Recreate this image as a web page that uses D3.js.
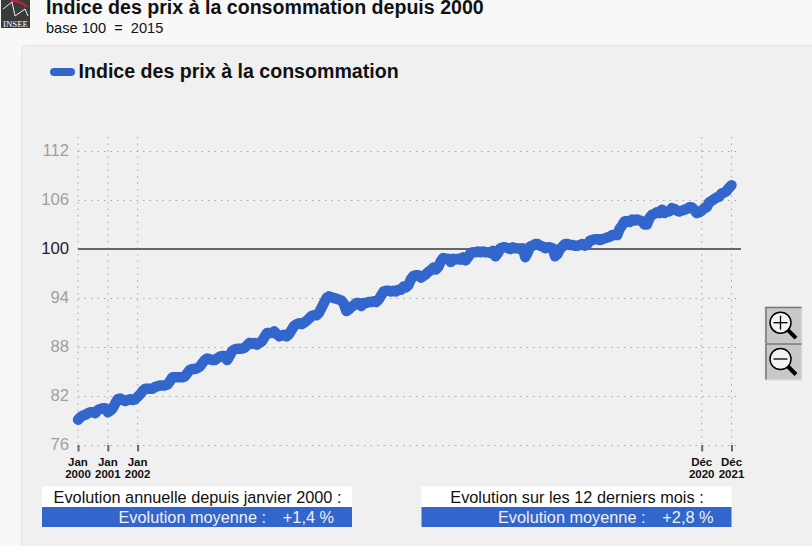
<!DOCTYPE html>
<html><head><meta charset="utf-8">
<script src="https://cdn.jsdelivr.net/npm/d3@7"></script>
<style>
html,body{margin:0;padding:0;background:#f8f8f8;overflow:hidden}
svg{display:block;font-family:"Liberation Sans",Arial,sans-serif}
</style></head><body><svg id="c" width="812" height="546"></svg>
<script>
const title = "Indice des prix à la consommation depuis 2000";
const subtitle = "base 100  =  2015";
const seriesName = "Indice des prix à la consommation";
const v2000 = [79.1,79.4,79.6,79.7,79.9,80.0,80.0,79.9,80.3,80.4,80.5,80.5];
const v2001 = [80.0,80.2,80.5,81.1,81.6,81.7,81.5,81.4,81.5,81.6,81.5,81.6];
const v2002 = [81.9,82.2,82.6,82.9,82.9,82.9,82.9,83.1,83.2,83.3,83.3,83.3];
const v2003 = [83.4,83.8,84.3,84.3,84.3,84.3,84.3,84.4,84.8,85.2,85.3,85.3];
const v2004 = [85.4,85.6,86.0,86.4,86.6,86.5,86.4,86.4,86.6,86.8,86.9,86.9];
const v2005 = [86.4,86.9,87.5,87.7,87.8,87.8,87.8,87.9,88.2,88.5,88.4,88.5];
const v2006 = [88.3,88.5,88.7,89.2,89.7,89.7,89.7,89.9,89.6,89.3,89.4,89.5];
const v2007 = [89.3,89.6,90.1,90.6,90.8,90.9,90.8,91.0,91.2,91.5,91.8,91.9];
const v2008 = [91.9,92.2,92.8,93.4,94.0,94.2,94.1,94.0,93.9,93.8,93.7,93.3];
const v2009 = [92.4,92.6,92.9,93.1,93.4,93.4,93.0,93.4,93.4,93.5,93.5,93.6];
const v2010 = [93.5,93.8,94.3,94.8,94.9,94.9,94.8,94.9,94.8,95.0,95.0,95.4];
const v2011 = [95.3,95.6,96.3,96.7,96.8,96.8,96.5,96.7,96.9,97.2,97.4,97.7];
const v2012 = [97.5,97.8,98.5,98.9,98.8,98.8,98.4,98.8,98.7,98.8,98.7,99.0];
const v2013 = [98.6,99.0,99.5,99.6,99.6,99.7,99.6,99.7,99.6,99.6,99.5,99.8];
const v2014 = [99.1,99.5,100.1,100.2,100.2,100.1,100.0,100.2,100.1,100.1,100.0,100.1];
const v2015 = [99.0,99.6,100.3,100.4,100.6,100.6,100.4,100.3,100.1,100.2,100.2,100.1];
const v2016 = [99.1,99.4,100.0,100.3,100.6,100.6,100.5,100.5,100.4,100.4,100.5,100.6];
const v2017 = [100.4,100.6,101.0,101.1,101.2,101.2,101.1,101.2,101.3,101.4,101.5,101.7];
const v2018 = [101.7,101.7,102.5,102.9,103.4,103.4,103.3,103.6,103.5,103.6,103.5,103.4];
const v2019 = [103.0,103.0,103.8,104.2,104.3,104.5,104.4,104.8,104.4,104.6,104.6,105.0];
const v2020 = [104.9,104.7,104.6,104.7,104.8,104.9,105.1,105.1,104.8,104.4,104.5,104.7];
const v2021 = [105.0,105.1,105.7,105.9,106.1,106.3,106.4,106.8,106.9,107.1,107.5,107.8];
const values = [v2000,v2001,v2002,v2003,v2004,v2005,v2006,v2007,v2008,v2009,v2010,v2011,v2012,v2013,v2014,v2015,v2016,v2017,v2018,v2019,v2020,v2021].flat();
const yTicks = [76,82,88,94,100,106,112];
const xTickIdx = [0,12,24,251,263];
const xTickL1 = ["Jan","Jan","Jan","Déc","Déc"];
const xTickL2 = ["2000","2001","2002","2020","2021"];
const box1 = ["Evolution annuelle depuis janvier 2000 :","Evolution moyenne :","+1,4 %"];
const box2 = ["Evolution sur les 12 derniers mois :","Evolution moyenne :","+2,8 %"];
const blue = "#3366cc";

const svg = d3.select("#c");
const x = d3.scaleLinear().domain([0,263]).range([78,731.5]);
const y = d3.scaleLinear().domain([76,112]).range([445,151]);

// panel
svg.append("rect").attr("x",21.5).attr("y",45.5).attr("width",840).attr("height",530).attr("rx",5)
  .attr("fill","#f0f0f0").attr("stroke","#e6e6e6");

// logo
const logo = svg.append("g");
logo.append("rect").attr("x",1).attr("y",-2).attr("width",29).attr("height",30).attr("fill","#3a3a3a");
logo.append("path").attr("d","M11,1 Q20,0 27,7").attr("fill","none").attr("stroke","#c8203f").attr("stroke-width",2);
logo.append("path").attr("d","M3,9 L12,2 L15,16 L25,9 L28,16").attr("fill","none").attr("stroke","#eee").attr("stroke-width",1);
logo.append("text").attr("x",15.5).attr("y",26.5).attr("text-anchor","middle").attr("font-size",9).attr("textLength",25).attr("lengthAdjust","spacingAndGlyphs").attr("fill","#fff").attr("font-family","Liberation Serif").text("INSEE");

// headings
svg.append("text").attr("x",46).attr("y",14).attr("font-size",19.6).attr("font-weight","bold").attr("fill","#111").text(title);
svg.append("text").attr("x",46).attr("y",33).attr("font-size",14.6).attr("fill","#111").style("white-space","pre").text(subtitle);

// legend
svg.append("line").attr("x1",54).attr("x2",71).attr("y1",72).attr("y2",72).attr("stroke",blue).attr("stroke-width",8).attr("stroke-linecap","round");
svg.append("text").attr("x",78.5).attr("y",78).attr("font-size",19.6).attr("font-weight","bold").attr("fill","#111").text(seriesName);

// horizontal grid + y axis labels
const gy = svg.append("g").attr("transform","translate(78,0)")
  .call(d3.axisLeft(y).tickValues(yTicks).tickSize(-662).tickPadding(9).tickFormat(d3.format("d")));
gy.select(".domain").remove();
gy.selectAll("line").attr("stroke",d=>d===100?"none":"#aaa").attr("stroke-dasharray","1.5,5").attr("stroke-width",1);
gy.selectAll("text").attr("font-size",16.7).attr("font-family","Liberation Sans").attr("dy","0.24em").attr("fill",d=>d===100?"#222":"#a0a0a0");

// vertical grid
svg.append("g").selectAll("line").data(xTickIdx).join("line")
  .attr("x1",d=>x(d)).attr("x2",d=>x(d)).attr("y1",137).attr("y2",445)
  .attr("stroke","#aaa").attr("stroke-dasharray","1.5,5");

// 100 line
svg.append("line").attr("x1",78).attr("x2",741).attr("y1",y(100)).attr("y2",y(100)).attr("stroke","#666").attr("stroke-width",2);

// x ticks
const gx = svg.append("g").attr("transform","translate(0,445)")
  .call(d3.axisBottom(x).tickValues(xTickIdx).tickSize(6.5).tickFormat(""));
gx.select(".domain").remove();
gx.selectAll("line").attr("stroke","#666").attr("stroke-width",2);
const lab = svg.append("g").selectAll("text").data(xTickIdx).join("text")
  .attr("text-anchor","middle").attr("font-size",11.5).attr("font-weight","bold").attr("fill","#111");
lab.append("tspan").attr("x",d=>x(d)).attr("y",466).text((d,i)=>xTickL1[i]);
lab.append("tspan").attr("x",d=>x(d)).attr("y",478).text((d,i)=>xTickL2[i]);

// series
svg.append("path").datum(values)
  .attr("d",d3.line().x((d,i)=>x(i)).y(d=>y(d)))
  .attr("fill","none").attr("stroke",blue).attr("stroke-width",10.5)
  .attr("stroke-linecap","round").attr("stroke-linejoin","round");

// boxes
function box(left,w,t){
  svg.append("rect").attr("x",left).attr("y",486.5).attr("width",w).attr("height",20.5).attr("fill","#fff");
  svg.append("rect").attr("x",left).attr("y",507).attr("width",w).attr("height",20).attr("fill",blue);
  svg.append("text").attr("x",left+w/2+.5).attr("y",503).attr("text-anchor","middle").attr("font-size",16.3).attr("fill","#111").text(t[0]);
  svg.append("text").attr("x",left+w-86).attr("y",522.5).attr("text-anchor","end").attr("font-size",16.3).attr("fill","#f0f0f0").text(t[1]);
  svg.append("text").attr("x",left+w-18).attr("y",522.5).attr("text-anchor","end").attr("font-size",16.3).attr("fill","#f0f0f0").text(t[2]);
}
box(42,310,box1);
box(421.5,310,box2);

// zoom buttons
svg.append("rect").attr("x",764).attr("y",306).attr("width",38.5).attr("height",75).attr("fill","#e6e6e6");
function btn(top,h,plus){
  const g = svg.append("g");
  g.append("rect").attr("x",765.5).attr("y",top).attr("width",36).attr("height",h).attr("fill","#c8c8c8");
  g.append("path").attr("d",`M766,${top+h}V${top+.5}H801.5`).attr("fill","none").attr("stroke","#777").attr("stroke-width",1.5);
  const cx=780.5,cy=plus?322.7:359;
  g.append("line").attr("x1",cx+7).attr("y1",cy+7).attr("x2",cx+15.5).attr("y2",cy+15.5).attr("stroke","#000").attr("stroke-width",4);
  g.append("circle").attr("cx",cx).attr("cy",cy).attr("r",10.5).attr("fill","#f4f4f4").attr("stroke","#000").attr("stroke-width",1.5);
  g.append("line").attr("x1",cx-7).attr("x2",cx+7).attr("y1",cy).attr("y2",cy).attr("stroke","#000").attr("stroke-width",1.3);
  if(plus) g.append("line").attr("x1",cx).attr("x2",cx).attr("y1",cy-7).attr("y2",cy+7).attr("stroke","#000").attr("stroke-width",1.3);
}
btn(307,36,true);
btn(343.5,36,false);
</script></body></html>
